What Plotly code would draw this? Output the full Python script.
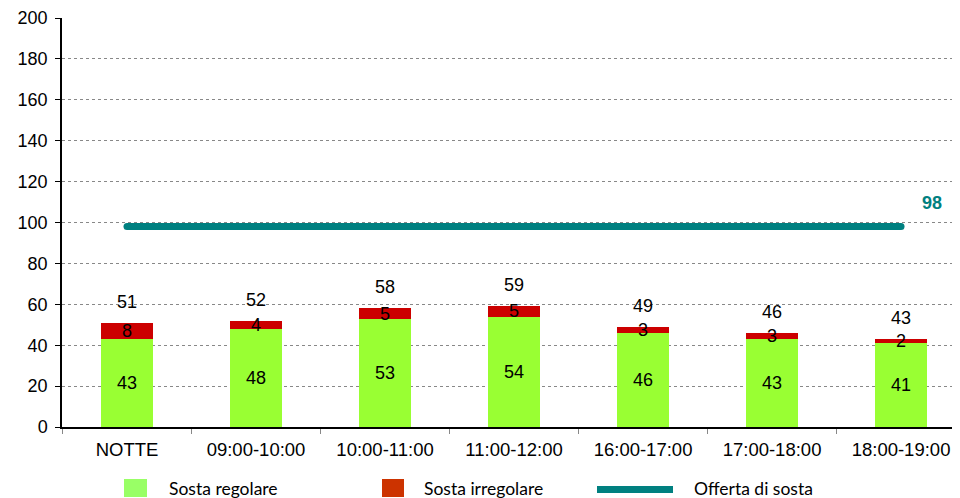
import plotly.graph_objects as go

categories = ["NOTTE", "09:00-10:00", "10:00-11:00", "11:00-12:00", "16:00-17:00", "17:00-18:00", "18:00-19:00"]
regolare = [43, 48, 53, 54, 46, 43, 41]
irregolare = [8, 4, 5, 5, 3, 3, 2]
offerta = [98, 98, 98, 98, 98, 98, 98]
totali = [r + i for r, i in zip(regolare, irregolare)]
series_names = ["Sosta regolare", "Sosta irregolare", "Offerta di sosta"]

FONT = "Liberation Sans, Arial, sans-serif"
LEGFONT = "Lato, Liberation Sans, sans-serif"
GREEN = "#99FF33"
RED = "#CC0000"
TEAL = "#008080"

# page has an 8px body margin; compensate so the plot lands where the reference has it
OFF = 8
W, H = 960 - OFF, 498 - OFF
L, T, B_SCREEN, R_SCREEN = 62, 18, 427, 960

fig = go.Figure()
fig.add_trace(go.Bar(x=categories, y=regolare, name=series_names[0],
                     marker=dict(color=GREEN, line=dict(width=0)), width=0.403))
fig.add_trace(go.Bar(x=categories, y=irregolare, name=series_names[1],
                     marker=dict(color=RED, line=dict(width=0)), width=0.403))
fig.add_trace(go.Scatter(x=categories, y=offerta, name=series_names[2], mode="lines+markers",
                         line=dict(color=TEAL, width=7), marker=dict(color=TEAL, size=7)))

ann = []
lblfont = dict(size=18, color="black", family=FONT)
for c, r, i, t in zip(categories, regolare, irregolare, totali):
    ann.append(dict(x=c, y=r / 2, text=str(r), showarrow=False, font=lblfont))
    ann.append(dict(x=c, y=r + i / 2, text=str(i), showarrow=False, font=lblfont))
    ann.append(dict(x=c, y=t, yshift=21, text=str(t), showarrow=False, font=lblfont))
ann.append(dict(x=6.24, y=offerta[-1], xref="x", yref="y", yshift=24, text="<b>%d</b>" % offerta[-1],
                showarrow=False, font=dict(size=18, color=TEAL, family=FONT)))

# custom legend in plot-domain "paper" coordinates (screen px -> fraction)
def px(x):
    return (x - L) / (R_SCREEN - L)
def py(y):
    return (B_SCREEN - y) / (B_SCREEN - T)

shapes = [
    dict(type="rect", xref="paper", yref="paper", x0=px(124), x1=px(147), y0=py(497), y1=py(479),
         fillcolor="#99FF66", line=dict(width=0)),
    dict(type="rect", xref="paper", yref="paper", x0=px(382), x1=px(404), y0=py(497), y1=py(479),
         fillcolor="#CC3300", line=dict(width=0)),
    dict(type="rect", xref="paper", yref="paper", x0=px(597), x1=px(673), y0=py(493), y1=py(486),
         fillcolor=TEAL, line=dict(width=0)),
]
legfont = dict(size=17.5, color="black", family=LEGFONT)
for name, xl in zip(series_names, [167, 422, 692]):
    ann.append(dict(xref="paper", yref="paper", x=px(xl), y=py(489), xanchor="left", yanchor="middle",
                    text=name, showarrow=False, font=legfont))

fig.update_layout(
    width=W, height=H,
    margin=dict(l=L - OFF, r=0, t=T - OFF, b=H - (B_SCREEN - OFF), pad=0),
    paper_bgcolor="white", plot_bgcolor="white",
    barmode="stack",
    showlegend=False,
    annotations=ann,
    shapes=shapes,
    font=dict(family=FONT, size=16, color="black"),
)
fig.update_xaxes(type="category", range=[-0.504, 6.457], showline=True, linecolor="black", linewidth=1.5,
                 ticks="outside", tickson="boundaries", ticklen=5, tickcolor="#888888",
                 tickfont=dict(size=18.5, family=FONT, color="black"), showgrid=False,
                 automargin=False, ticklabelstandoff=5)
fig.update_yaxes(range=[0, 200], dtick=20, showline=True, linecolor="black", linewidth=1.5,
                 ticks="outside", ticklen=5, tickcolor="black",
                 showgrid=True, gridcolor="#888888", griddash="dot", gridwidth=1,
                 tickfont=dict(size=18, family=FONT, color="black"), zeroline=False,
                 automargin=False, ticklabelstandoff=4)

fig.write_html("out.html")
